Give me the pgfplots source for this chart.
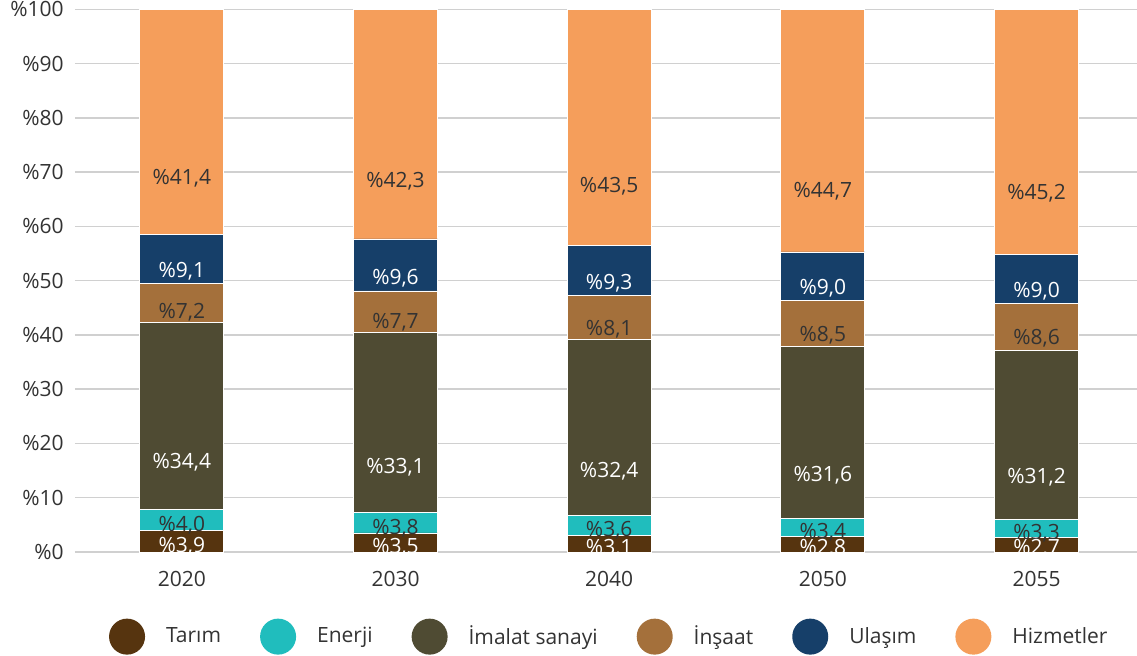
\documentclass[border=0pt]{standalone}
\usepackage{pgfplots}
\pgfplotsset{compat=1.18}
\usepackage{pgfplotstable}
\usepackage{fontspec}
\setmainfont{Open Sans}

\definecolor{tarim}{HTML}{56340F}
\definecolor{enerji}{HTML}{20BDBD}
\definecolor{imalat}{HTML}{4F4B33}
\definecolor{insaat}{HTML}{A4703B}
\definecolor{ulasim}{HTML}{163F69}
\definecolor{hizmet}{HTML}{F59E5B}
\definecolor{gridgray}{HTML}{D0D0D0}
\definecolor{txt}{HTML}{333333}

\pgfplotstableread{
x  tarim enerji imalat insaat ulasim hizmet
0  3.9   4.0    34.4   7.2    9.1    41.4
1  3.5   3.8    33.1   7.7    9.6    42.3
2  3.1   3.6    32.4   8.1    9.3    43.5
3  2.8   3.4    31.6   8.5    9.0    44.7
4  2.7   3.3    31.2   8.6    9.0    45.2
}\datatable

% the shift is applied twice by pgfplots, so a quarter of 2.713pt per unit
\pgfplotsset{
  seg/.style n args={3}{
    fill=#2, draw=white, line width=0.4pt,
    visualization depends on={\thisrow{#1} \as \rawy},
    every node near coord/.style={anchor=center, text=#3,
      font=\fontsize{10.5pt}{12pt}\selectfont, yshift={-0.67825pt*\rawy}},
  },
}

\begin{document}
\fontsize{10.5pt}{12pt}\selectfont
\begin{tikzpicture}
\useasboundingbox (-37.5pt,-52pt) rectangle (531pt,276pt);
\begin{axis}[
  anchor=south west, at={(0pt,0pt)},
  scale only axis,
  width=531pt, height=271.3pt,
  ybar stacked, bar width=42pt,
  xmin=-0.5, xmax=4.47,
  ymin=0, ymax=100,
  xtick=data,
  xticklabels={2020,2030,2040,2050,2055},
  ytick={0,10,...,100},
  yticklabel={\%\pgfmathprintnumber{\tick}},
  ymajorgrids,
  grid style={gridgray, line width=0.75pt},
  axis x line*=bottom,
  axis y line*=left,
  x axis line style={gridgray, line width=0.75pt, -},
  y axis line style={draw=none},
  major tick length=0pt,
  tick label style={text=txt, font=\fontsize{10.5pt}{12pt}\selectfont},
  xticklabel style={yshift=-6pt},
  yticklabel style={xshift=-2pt},
  /pgf/number format/assume math mode=true,
  nodes near coords={\%\pgfmathprintnumber[fixed,fixed zerofill,precision=1,use comma]{\pgfplotspointmeta}},
  legend columns=6,
  legend style={at={(0.504,-0.156)}, anchor=center, draw=none, fill=none,
    font=\fontsize{10.5pt}{12pt}\selectfont, text=txt,
    /tikz/every odd column/.append style={column sep=8.5pt},
    /tikz/every even column/.append style={column sep=17.5pt}},
  legend image code/.code={\fill[#1,/tikz/.cd,draw=none] (9pt,0pt) circle (9pt);},
  clip=false,
]
\addplot[seg={tarim}{tarim}{white}] table[x=x, y=tarim, meta=tarim] {\datatable};
\addplot[seg={enerji}{enerji}{txt}] table[x=x, y=enerji, meta=enerji] {\datatable};
\addplot[seg={imalat}{imalat}{white}] table[x=x, y=imalat, meta=imalat] {\datatable};
\addplot[seg={insaat}{insaat}{txt}] table[x=x, y=insaat, meta=insaat] {\datatable};
\addplot[seg={ulasim}{ulasim}{white}] table[x=x, y=ulasim, meta=ulasim] {\datatable};
\addplot[seg={hizmet}{hizmet}{txt}] table[x=x, y=hizmet, meta=hizmet] {\datatable};
\legend{Tarım, Enerji, İmalat sanayi, İnşaat, Ulaşım, Hizmetler}
\end{axis}
\end{tikzpicture}
\end{document}
